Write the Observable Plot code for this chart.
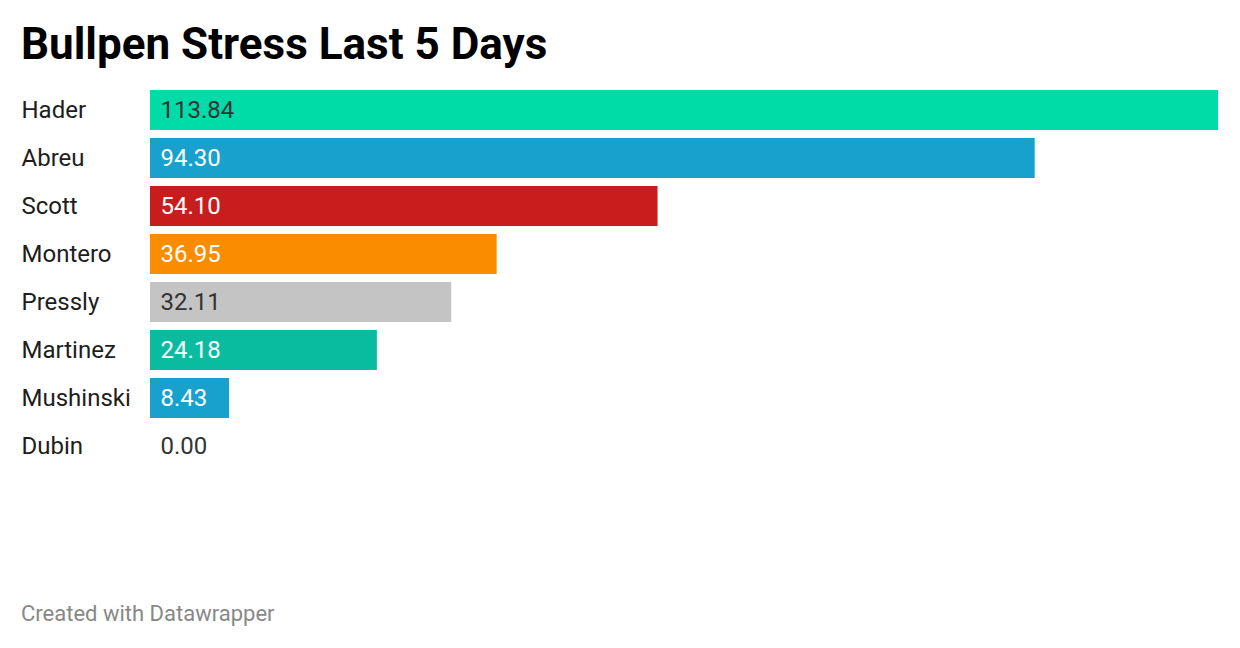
<!DOCTYPE html>
<html>
<head>
<meta charset="utf-8">
<script src="https://cdn.jsdelivr.net/npm/d3@7"></script>
<script src="https://cdn.jsdelivr.net/npm/@observablehq/plot@0.6"></script>
<style>
  html, body { margin: 0; padding: 0; background: #fff; }
  body { width: 1240px; height: 648px; position: relative; overflow: hidden; font-family: Roboto, "Noto Sans", sans-serif; }
  #title { position: absolute; left: 21px; top: 22px; font-size: 44px; font-weight: 700; color: #000; line-height: 1; white-space: nowrap; }
  #chart { position: absolute; left: 0; top: 0; }
  #footer { position: absolute; left: 21px; top: 603px; font-size: 22px; color: #888; line-height: 1; white-space: nowrap; }
</style>
</head>
<body>
<div id="title">Bullpen Stress Last 5 Days</div>
<div id="chart"></div>
<div id="footer">Created with Datawrapper</div>
<script>
const pitchers = ["Hader", "Abreu", "Scott", "Montero", "Pressly", "Martinez", "Mushinski", "Dubin"];
const stress = [113.84, 94.30, 54.10, 36.95, 32.11, 24.18, 8.43, 0.00];
const barColors = ["#00dca8", "#18a1cd", "#c71e1d", "#fa8c00", "#c4c4c4", "#09bb9f", "#18a1cd", "#18a1cd"];

const rows = pitchers.map((name, i) => ({name, value: stress[i], color: barColors[i]}));
const darkText = d => d.value === 0 || d3.hcl(d.color).l > 72;

const chart = Plot.plot({
  width: 1240,
  height: 500,
  marginLeft: 0,
  marginRight: 0,
  marginTop: 0,
  marginBottom: 0,
  x: {domain: [0, 113.84], range: [150, 1218], axis: null},
  y: {domain: pitchers, range: [86, 470], paddingInner: 1/6, paddingOuter: 1/12, axis: null},
  style: {fontFamily: "Roboto, sans-serif", background: "transparent"},
  marks: [
    Plot.barX(rows, {x: "value", y: "name", fill: "color"}),
    Plot.text(rows, {y: "name", text: "name", frameAnchor: "left", dx: 21, textAnchor: "start", fontSize: 24, fill: "#1d1d1d"}),
    Plot.text(rows, {x: 0, y: "name", text: d => d.value.toFixed(2), dx: 10, textAnchor: "start", fontSize: 24,
      fill: d => darkText(d) ? "#333333" : "#ffffff"})
  ]
});
document.getElementById("chart").appendChild(chart);
</script>
</body>
</html>
